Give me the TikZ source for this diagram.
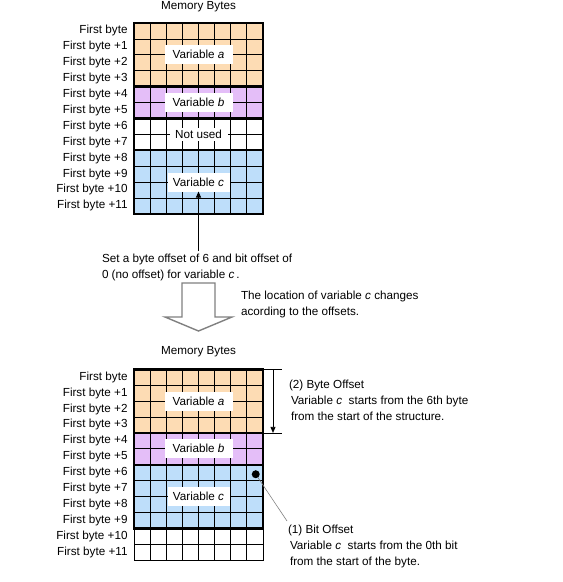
\documentclass[tikz,border=0pt]{standalone}
\usepackage{fontspec}
\setmainfont{Liberation Sans}
\usetikzlibrary{positioning,arrows.meta}
\definecolor{peach}{RGB}{253,220,180}
\definecolor{lilac}{RGB}{228,190,248}
\definecolor{skyblue}{RGB}{190,222,250}
\begin{document}
\begin{tikzpicture}[x=1pt,y=-1pt,inner sep=0pt,outer sep=0pt,
font=\fontsize{11.7}{16}\selectfont,
cellline/.style={line width=0.8pt},
groupbox/.style={line width=2.4pt},
varbox/.style={fill=white,minimum width=68pt,minimum height=19pt},
rowlabel/.style={anchor=east},
note/.style={anchor=north west,align=left},
ptr/.style={-{Triangle[width=5pt,length=6pt]},line width=0.8pt},
leader/.style={draw=gray,line width=0.6pt},
hollow/.style={draw=gray,line width=1.4pt,fill=white}]
\useasboundingbox (0,0) rectangle (563,582);

% before the offsets
\node (head1) at (198.5,7) {Memory Bytes};
\begin{scope}[xshift=134pt,yshift=-23pt,x=16.125pt,y=-15.9pt]
\fill[peach] (0,0) rectangle (8,4);
\fill[lilac] (0,4) rectangle (8,6);
\fill[skyblue] (0,8) rectangle (8,12);
\foreach \c in {1,...,7} \draw[cellline] (\c,0) -- (\c,12);
\foreach \r in {1,...,11} \draw[cellline] (0,\r) -- (8,\r);
\foreach \a/\b in {0/4,4/6,6/8,8/12} \draw[groupbox] (0,\a) rectangle (8,\b);
\node[varbox] (va1) at (4,2) {Variable \textit{a}};
\node[varbox] (vb1) at (4,5) {Variable \textit{b}};
\node[varbox,minimum width=58pt,minimum height=13pt] (unused) at (4,7) {Not used};
\node[varbox,minimum width=62pt] (vc1) at (4,10) {Variable \textit{c}};
\node[rowlabel] at (-0.4,0.5) {First byte};
\foreach \r in {1,...,11} \node[rowlabel] at (-0.4,\r+0.5) {First byte +\r};
\end{scope}

\node[note] (setnote) at (102,254) {Set a byte offset of 6 and bit offset of\\0 (no offset) for variable \textit{c}\,.};
\draw[ptr] ([yshift=3pt]setnote.north -| vc1) -- (vc1.south);

\draw[hollow] (182,283) -- (215,283) -- (215,317) -- (232,317) -- (198.5,331) -- (165,317) -- (182,317) -- cycle;
\node[note] (movenote) at (241,291) {The location of variable \textit{c} changes\\acording to the offsets.};

% after the offsets
\node (head2) at (198.5,352) {Memory Bytes};
\begin{scope}[xshift=134pt,yshift=-369.3pt,x=16.125pt,y=-15.9pt]
\fill[peach] (0,0) rectangle (8,4);
\fill[lilac] (0,4) rectangle (8,6);
\fill[skyblue] (0,6) rectangle (8,10);
\foreach \c in {1,...,7} \draw[cellline] (\c,0) -- (\c,12);
\foreach \r in {1,...,11} \draw[cellline] (0,\r) -- (8,\r);
\draw[cellline] (0,0) rectangle (8,12);
\foreach \a/\b in {0/4,4/6,6/10} \draw[groupbox] (0,\a) rectangle (8,\b);
\node[varbox] (va2) at (4,2) {Variable \textit{a}};
\node[varbox] (vb2) at (4,5) {Variable \textit{b}};
\node[varbox,minimum width=62pt] (vc2) at (4,8) {Variable \textit{c}};
\node[circle,fill,minimum size=8pt] (bitdot) at (7.55,6.6) {};
\coordinate (dimtop) at (8,0);
\coordinate (dimbot) at (8,4);
\node[rowlabel] at (-0.4,0.5) {First byte};
\foreach \r in {1,...,11} \node[rowlabel] at (-0.4,\r+0.5) {First byte +\r};
\end{scope}

\draw[cellline] (dimtop) -- ++(19,0);
\draw[cellline] (dimbot) -- ++(19,0);
\draw[ptr] ([xshift=10pt]dimtop) -- ([xshift=10pt]dimbot);
\node[note] (bytenote) at (289,380) {(2) Byte Offset\\\hspace*{2pt}Variable \textit{c}\ \ starts from the 6th byte\\\hspace*{2pt}from the start of the structure.};

\node[note] (bitnote) at (288,525) {(1) Bit Offset\\\hspace*{2pt}Variable \textit{c}\ \ starts from the 0th bit\\\hspace*{2pt}from the start of the byte.};
\draw[leader] (bitdot) -- ([xshift=-1pt,yshift=4pt]bitnote.north west);
\end{tikzpicture}
\end{document}
